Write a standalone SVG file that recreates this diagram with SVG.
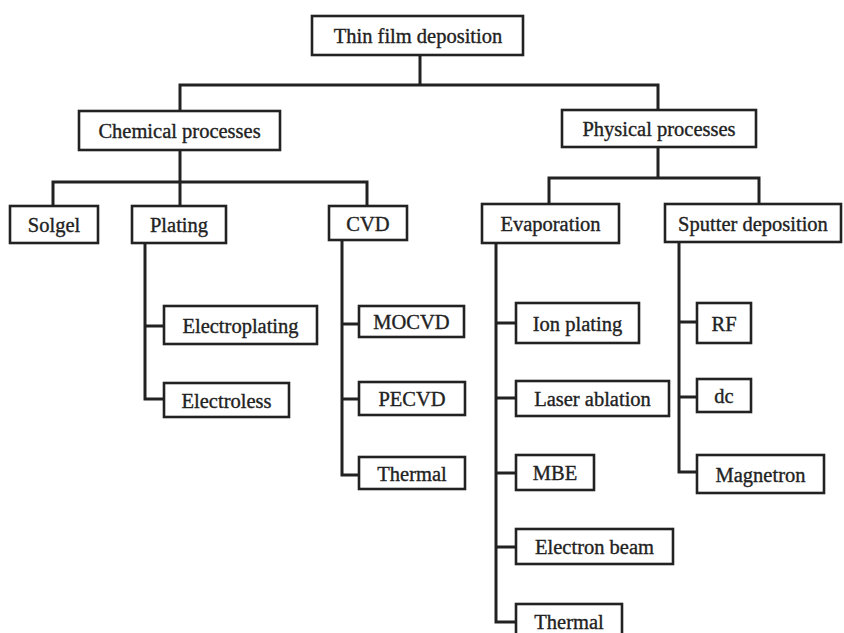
<svg xmlns="http://www.w3.org/2000/svg" width="844" height="633" viewBox="0 0 844 633">
<style>
.box{fill:#fff;stroke:#222;stroke-width:2.6}
.lbl{font-family:"Liberation Serif","Times New Roman",serif;font-size:20.5px;fill:#222;text-anchor:middle;stroke:#222;stroke-width:0.35}
.con{fill:none;stroke:#222;stroke-width:3;stroke-linejoin:miter;stroke-linecap:square}
</style>
<rect width="844" height="633" fill="#fff"/>
<g id="connectors" class="con">
<path d="M420,55 V85 M180,85 H658 M180,85 V111 M658,85 V110"/>
<path d="M180,150 V182 M53,182 H367 M53,182 V206 M180,182 V206 M367,182 V206"/>
<path d="M658,147 V178 M549,178 H759 M549,178 V204 M759,178 V204"/>
<path d="M145,243 V399 H164 M145,326 H164"/>
<path d="M342,240 V475 H359 M342,324 H359 M342,399 H359"/>
<path d="M496,243 V622 H516 M496,323 H516 M496,398 H516 M496,473 H516 M496,547 H516"/>
<path d="M679,242 V472 H697 M679,322 H697 M679,397 H697"/>
</g>
<g id="root"><rect class="box" x="312" y="16" width="211" height="39"/><text class="lbl" x="418" y="43">Thin film deposition</text></g>
<g id="chemical"><rect class="box" x="79" y="111" width="201" height="39"/><text class="lbl" x="179.5" y="138">Chemical processes</text></g>
<g id="physical"><rect class="box" x="562" y="110" width="194" height="37"/><text class="lbl" x="659" y="136">Physical processes</text></g>
<g id="solgel"><rect class="box" x="10" y="206" width="88" height="37"/><text class="lbl" x="54" y="232">Solgel</text></g>
<g id="plating"><rect class="box" x="132" y="206" width="94" height="37"/><text class="lbl" x="179" y="232">Plating</text></g>
<g id="cvd"><rect class="box" x="329" y="206" width="78" height="34"/><text class="lbl" x="368" y="230.5">CVD</text></g>
<g id="evaporation"><rect class="box" x="482" y="204" width="137" height="39"/><text class="lbl" x="550.5" y="231">Evaporation</text></g>
<g id="sputter"><rect class="box" x="665" y="204" width="176" height="38"/><text class="lbl" x="753" y="230.5">Sputter deposition</text></g>
<g id="electroplating"><rect class="box" x="164" y="306" width="153" height="38"/><text class="lbl" x="240.5" y="332.5">Electroplating</text></g>
<g id="electroless"><rect class="box" x="164" y="383" width="125" height="34"/><text class="lbl" x="226.5" y="407.5">Electroless</text></g>
<g id="mocvd"><rect class="box" x="359" y="306" width="105" height="31"/><text class="lbl" x="411.5" y="329">MOCVD</text></g>
<g id="pecvd"><rect class="box" x="359" y="382" width="106" height="33"/><text class="lbl" x="412" y="406">PECVD</text></g>
<g id="thermal-cvd"><rect class="box" x="359" y="457" width="106" height="32"/><text class="lbl" x="412" y="480.5">Thermal</text></g>
<g id="ion-plating"><rect class="box" x="516" y="303" width="123" height="40"/><text class="lbl" x="577.5" y="330.5">Ion plating</text></g>
<g id="laser-ablation"><rect class="box" x="516" y="381" width="153" height="35"/><text class="lbl" x="592.5" y="406">Laser ablation</text></g>
<g id="mbe"><rect class="box" x="516" y="455" width="78" height="35"/><text class="lbl" x="555" y="480">MBE</text></g>
<g id="electron-beam"><rect class="box" x="516" y="529" width="157" height="35"/><text class="lbl" x="594.5" y="554">Electron beam</text></g>
<g id="thermal-evap"><rect class="box" x="516" y="604" width="106" height="40"/><text class="lbl" x="569" y="629">Thermal</text></g>
<g id="rf"><rect class="box" x="697" y="303" width="54" height="40"/><text class="lbl" x="724" y="330.5">RF</text></g>
<g id="dc"><rect class="box" x="697" y="379" width="54" height="33"/><text class="lbl" x="724" y="403">dc</text></g>
<g id="magnetron"><rect class="box" x="697" y="455" width="127" height="38"/><text class="lbl" x="760.5" y="481.5">Magnetron</text></g>
</svg>
